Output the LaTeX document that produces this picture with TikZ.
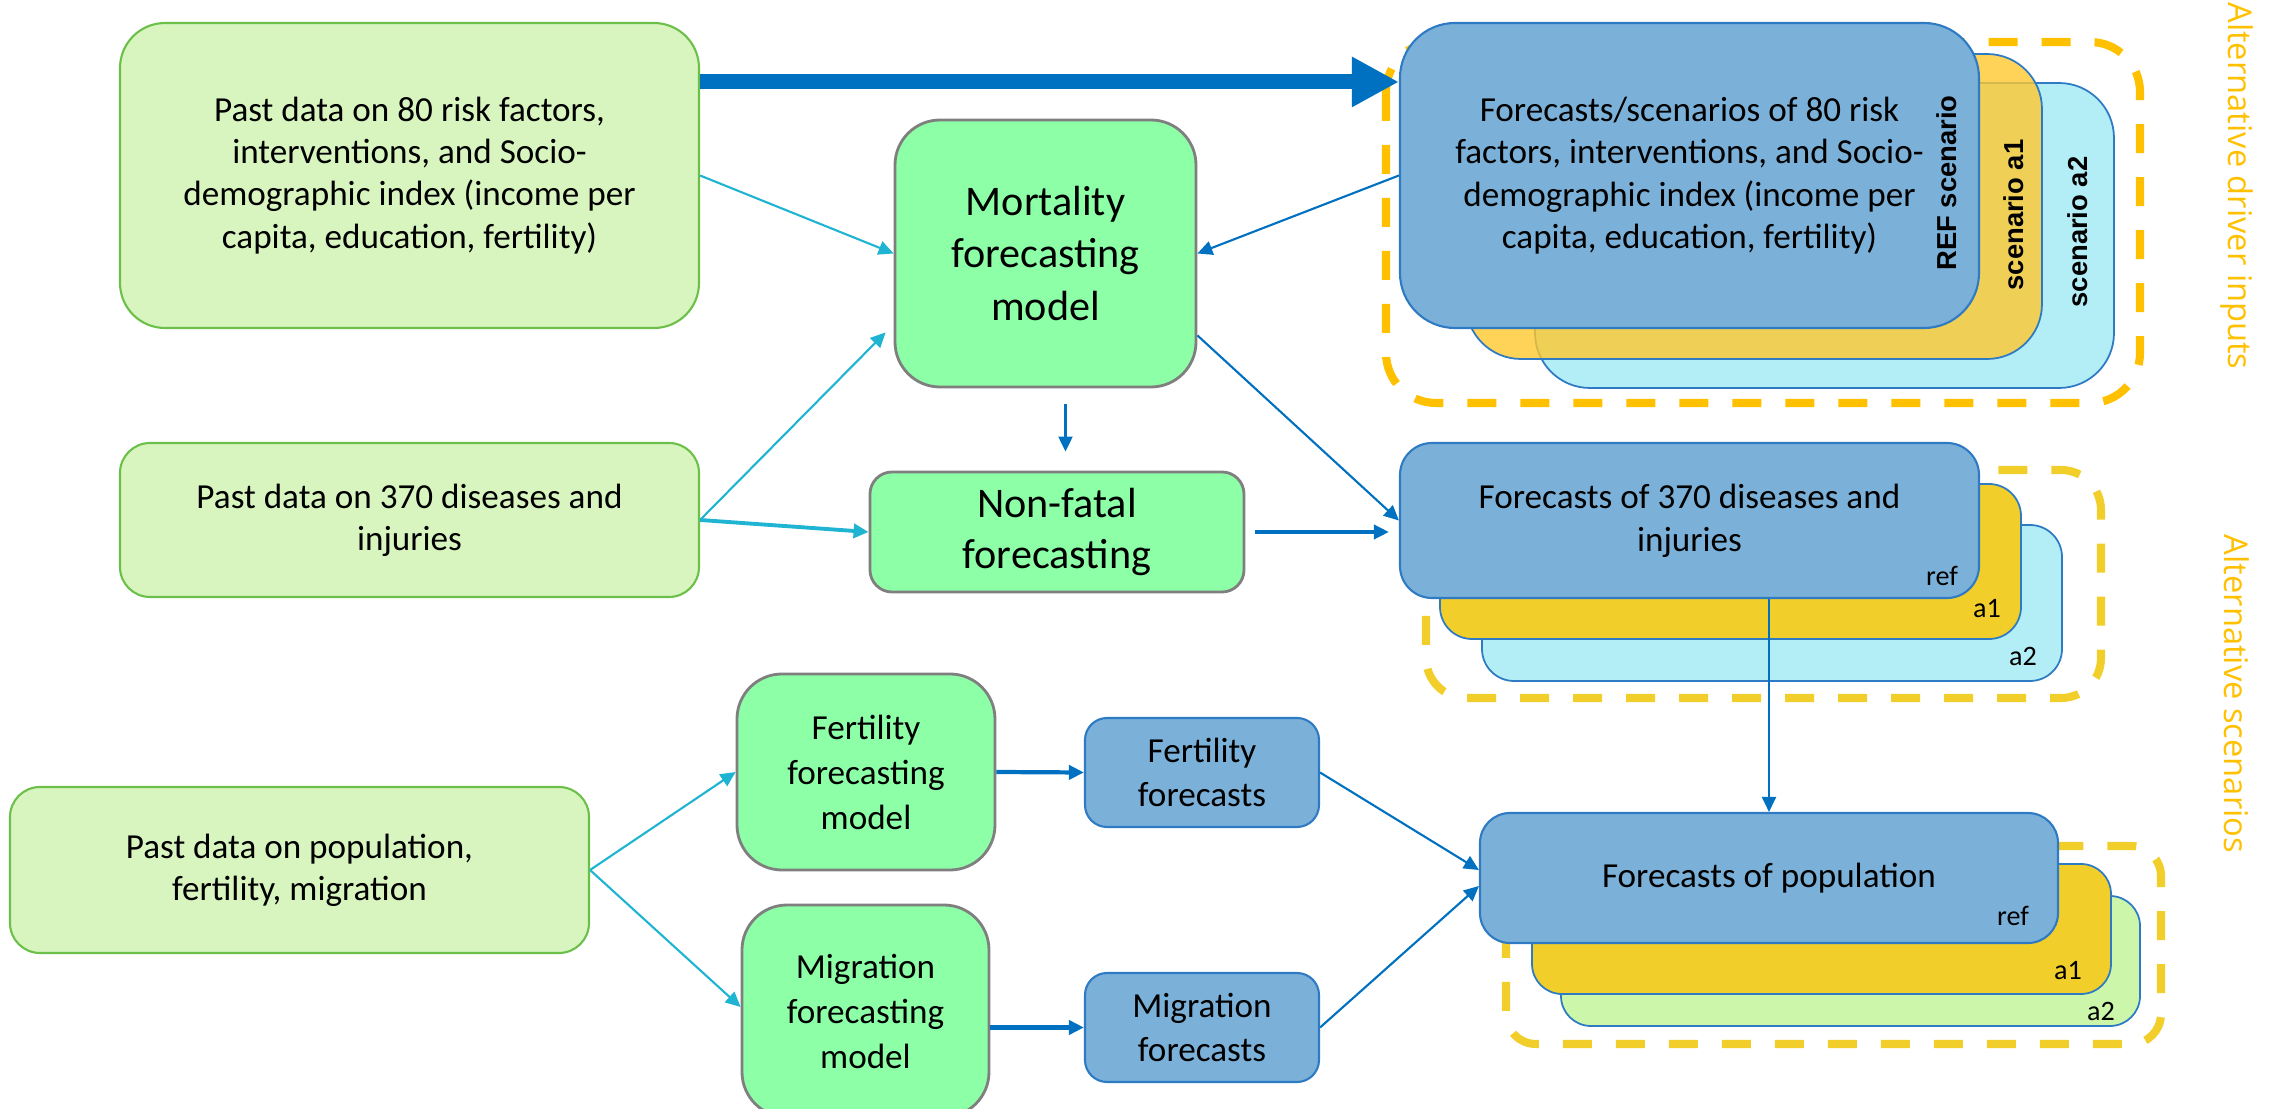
\documentclass[tikz,border=0pt]{standalone}
\usepackage{fontspec}
\setmainfont{Carlito}
\newfontfamily\scenfont{Liberation Sans}
\newfontfamily\altfont{Open Sans}
\usetikzlibrary{arrows.meta}

\definecolor{pastgreen}{HTML}{D8F5C0}
\definecolor{pastedge}{HTML}{6CC04A}
\definecolor{mint}{HTML}{8CFFA7}
\definecolor{mintedge}{HTML}{7F7F7F}
\definecolor{fcblue}{HTML}{7BB1D9}
\definecolor{fcedge}{HTML}{2E7BC4}
\definecolor{topyellow}{HTML}{FFC82E}
\definecolor{scenyellow}{HTML}{F2CE2A}
\definecolor{scencyan}{HTML}{B3EDF5}
\definecolor{scenlime}{HTML}{CCF7AA}
\definecolor{altorange}{HTML}{FFC000}
\definecolor{arrcyan}{HTML}{1FB4D1}
\definecolor{arrblue}{HTML}{0070C0}

\tikzset{
every picture/.style={
line width=0.6pt
},
pastbox/.style={draw=pastedge, fill=pastgreen, align=center, inner sep=0pt,
  font=\fontsize{10}{12}\selectfont},
modelbox/.style={draw=mintedge, fill=mint, line width=0.8pt, align=center, inner sep=0pt,
  font=\fontsize{10}{12.8}\selectfont},
fcbox/.style={draw=fcedge, fill=fcblue, align=center, inner sep=0pt,
  font=\fontsize{10}{12.3}\selectfont},
scenbox/.style={draw=fcedge, line width=0.5pt, inner sep=0pt},
scenframe/.style={line width=2.3pt, dash pattern=on 0.29cm off 0.24cm},
scenlabel/.style={font=\scenfont\bfseries\fontsize{7.8}{9}\selectfont, rotate=90, inner sep=0pt},
reftag/.style={font=\fontsize{8}{9}\selectfont, inner sep=0pt},
sidelabel/.style={font=\altfont\fontsize{9.3}{11}\selectfont, text=altorange, rotate=-90, inner sep=0pt},
cyanarr/.style={draw=arrcyan, -{Triangle[length=0.15cm,width=0.14cm]}},
bluearr/.style={draw=arrblue, -{Triangle[length=0.15cm,width=0.14cm]}},
bigarr/.style={draw=arrblue, line width=0.15cm, -{Triangle[length=0.47cm,width=0.47cm]}}
}

\begin{document}
\begin{tikzpicture}
  \useasboundingbox (0,0) rectangle (22.79,-11.09);
  \clip (0,0) rectangle (22.79,-11.09);

  % past data
  \node[pastbox, minimum width=5.79cm, minimum height=3.05cm, rounded corners=0.45cm]
    (pastrisk) at (4.095,-1.755) {Past data on 80 risk factors,\\ interventions, and Socio-\\
    demographic index (income per\\ capita, education, fertility)};
  \node[pastbox, minimum width=5.79cm, minimum height=1.54cm, rounded corners=0.3cm]
    (pastdis) at (4.095,-5.20) {Past data on 370 diseases and\\ injuries};
  \node[pastbox, minimum width=5.79cm, minimum height=1.66cm, rounded corners=0.3cm]
    (pastpop) at (2.995,-8.70) {Past data on population,\\ fertility, migration};

  % models
  \node[modelbox, minimum width=3.01cm, minimum height=2.67cm, rounded corners=0.45cm,
    font=\fontsize{12}{15}\selectfont] (mort) at (10.455,-2.535) {Mortality\\ forecasting\\ model};
  \node[modelbox, minimum width=3.74cm, minimum height=1.20cm, rounded corners=0.22cm,
    font=\fontsize{12}{14.5}\selectfont] (nonfatal) at (10.57,-5.32) {Non-fatal\\ forecasting};
  \node[modelbox, minimum width=2.58cm, minimum height=1.96cm, rounded corners=0.45cm]
    (fertmod) at (8.66,-7.72) {Fertility\\ forecasting\\ model};
  \node[modelbox, minimum width=2.47cm, minimum height=2.12cm, rounded corners=0.45cm]
    (migmod) at (8.655,-10.11) {Migration\\ forecasting\\ model};
  \node[fcbox, minimum width=2.34cm, minimum height=1.09cm, rounded corners=0.22cm]
    (fertfc) at (12.02,-7.725) {Fertility\\ forecasts};
  \node[fcbox, minimum width=2.34cm, minimum height=1.09cm, rounded corners=0.22cm]
    (migfc) at (12.02,-10.275) {Migration\\ forecasts};

  % driver scenarios
  \draw[scenframe, draw=altorange, rounded corners=0.5cm] (13.86,-0.42) rectangle (21.40,-4.03);
  \node[scenbox, fill=scencyan, minimum width=5.79cm, minimum height=3.05cm, rounded corners=0.55cm]
    (riska2) at (18.245,-2.355) {};
  \node[scenbox, fill=topyellow, fill opacity=0.8, minimum width=5.76cm, minimum height=3.05cm,
    rounded corners=0.55cm] (riska1) at (17.54,-2.065) {};
  \node[fcbox, minimum width=5.79cm, minimum height=3.05cm, rounded corners=0.55cm,
    font=\fontsize{10}{12.1}\selectfont] (riskref) at (16.895,-1.755)
    {Forecasts/scenarios of 80 risk\\ factors, interventions, and Socio-\\
    demographic index (income per\\ capita, education, fertility)};
  \node[scenlabel] (reflabel) at (19.47,-1.83) {REF scenario};
  \node[scenlabel] (a1label) at (20.14,-2.15) {scenario a1};
  \node[scenlabel] (a2label) at (20.78,-2.32) {scenario a2};

  % disease scenarios
  \draw[scenframe, draw=scenyellow, rounded corners=0.4cm] (14.26,-4.70) rectangle (21.01,-6.98);
  \node[scenbox, fill=scencyan, minimum width=5.80cm, minimum height=1.56cm, rounded corners=0.32cm]
    (disa2) at (17.72,-6.03) {};
  \node[scenbox, fill=scenyellow, minimum width=5.81cm, minimum height=1.55cm, rounded corners=0.32cm]
    (disa1) at (17.305,-5.615) {};
  \node[fcbox, minimum width=5.79cm, minimum height=1.55cm, rounded corners=0.32cm]
    (disref) at (16.895,-5.205) {Forecasts of 370 diseases and\\ injuries};
  \node[reftag] (disreftag) at (19.42,-5.76) {ref};
  \node[reftag] (disa1tag) at (19.87,-6.09) {a1};
  \node[reftag] (disa2tag) at (20.23,-6.56) {a2};

  % population scenarios
  \draw[scenframe, draw=scenyellow, rounded corners=0.3cm] (15.06,-8.46) rectangle (21.61,-10.44);
  \node[scenbox, fill=scenlime, minimum width=5.79cm, minimum height=1.30cm, rounded corners=0.3cm]
    (popa2) at (18.505,-9.61) {};
  \node[scenbox, fill=scenyellow, minimum width=5.79cm, minimum height=1.30cm, rounded corners=0.3cm]
    (popa1) at (18.215,-9.29) {};
  \node[fcbox, minimum width=5.78cm, minimum height=1.30cm, rounded corners=0.3cm]
    (popref) at (17.69,-8.78) {Forecasts of population};
  \node[reftag] (popreftag) at (20.13,-9.16) {ref};
  \node[reftag] (popa1tag) at (20.68,-9.71) {a1};
  \node[reftag] (popa2tag) at (21.01,-10.11) {a2};

  \node[sidelabel] (drivers) at (22.37,-1.86) {Alternative driver inputs};
  \node[sidelabel] (scenarios) at (22.37,-6.94) {Alternative scenarios};

  % connectors
  \draw[bigarr] ([yshift=-0.6cm]pastrisk.north east) -- ([yshift=-0.6cm]pastrisk.north east -| riskref.west);
  \draw[cyanarr] (pastrisk.east) -- (mort.west);
  \draw[cyanarr] (pastdis.east) -- ([shift={(-0.08,0.56)}]mort.south west);
  \draw[cyanarr, line width=1.1pt] (pastdis.east) -- (nonfatal.west);
  \draw[cyanarr] (pastpop.east) -- (fertmod.west);
  \draw[cyanarr] (pastpop.east) -- ([yshift=0.04cm]migmod.west);
  \draw[bluearr] (riskref.west) -- (mort.east);
  \draw[bluearr, shorten <=0.16cm, shorten >=0.19cm] ([xshift=0.2cm]mort.south)
    -- ([xshift=0.2cm]mort.south |- nonfatal.north);
  \draw[bluearr] ([yshift=0.53cm]mort.south east) -- (disref.west);
  \draw[bluearr, line width=1pt, shorten <=0.1cm, shorten >=0.1cm] (nonfatal.east) -- (nonfatal.east -| disref.west);
  \draw[bluearr] (disref.south -| popref.north) -- (popref.north);
  \draw[bluearr, line width=1.2pt] (fertmod.east) -- (fertfc.west);
  \draw[bluearr, line width=1.2pt] (migmod.east |- migfc.west) -- (migfc.west);
  \draw[bluearr] (fertfc.east) -- ([yshift=0.08cm]popref.west);
  \draw[bluearr] (migfc.east) -- ([yshift=-0.08cm]popref.west);
\end{tikzpicture}
\end{document}
